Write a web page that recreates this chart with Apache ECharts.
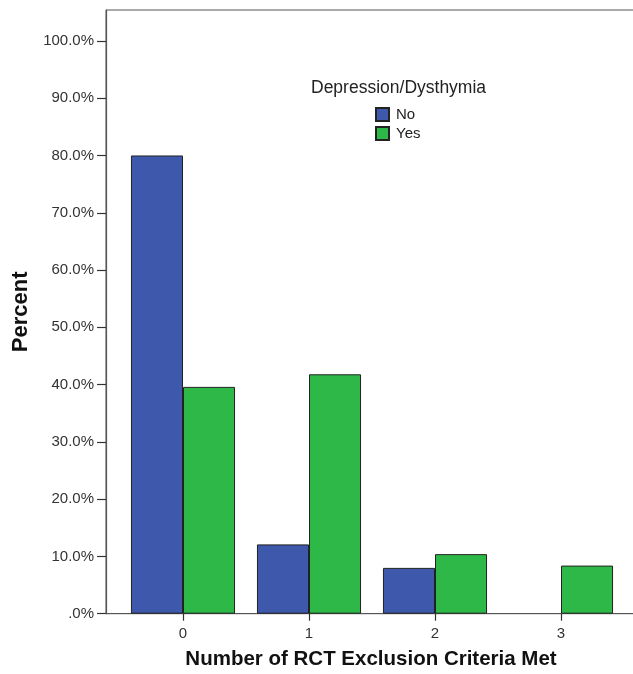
<!DOCTYPE html>
<html>
<head>
<meta charset="utf-8">
<script src="https://cdn.jsdelivr.net/npm/echarts@6/dist/echarts.min.js"></script>
<style>
html,body{margin:0;padding:0;background:#fff;}
#chart{width:633px;height:674px;}
</style>
</head>
<body>
<div id="chart"></div>
<script>
const categories = ['0', '1', '2', '3'];
const seriesNames = ['No', 'Yes'];
const noValues = [80.0, 12.1, 8.0, 0];
const yesValues = [39.6, 41.8, 10.4, 8.4];
const yTicks = [0, 10, 20, 30, 40, 50, 60, 70, 80, 90, 100];
const yMax = 105.4;
const legendTitle = 'Depression/Dysthymia';
const xTitle = 'Number of RCT Exclusion Criteria Met';
const yTitle = 'Percent';

const FONT = "'Liberation Sans', Arial, sans-serif";
const chart = echarts.init(document.getElementById('chart'), null, {renderer: 'canvas'});
const axisColor = '#555';
// a 0% bar is drawn as no bar at all
const asBars = arr => arr.map(v => (v === 0 ? null : v));
chart.setOption({
  backgroundColor: '#fff',
  animation: false,
  textStyle: {fontFamily: FONT},
  title: {
    text: legendTitle,
    left: 311, top: 79, padding: 0,
    textStyle: {fontFamily: FONT, fontSize: 17.5, fontWeight: 'normal', color: '#222'}
  },
  legend: {
    data: seriesNames,
    orient: 'vertical',
    left: 375, top: 107,
    padding: 0,
    itemWidth: 13, itemHeight: 13, itemGap: 4,
    icon: 'rect',
    textStyle: {fontFamily: FONT, fontSize: 15, color: '#222', padding: [0, 0, 0, 2]}
  },
  grid: [
    {left: 120, right: 9, top: 10, bottom: 60.3, outerBoundsMode: 'none', containLabel: false},
    {left: 106, right: -3, top: 10, bottom: 60.3, outerBoundsMode: 'none', containLabel: false,
     show: true, borderColor: axisColor, borderWidth: 1, backgroundColor: 'transparent'}
  ],
  xAxis: [
    {
      gridIndex: 0, type: 'category', data: categories,
      axisLine: {show: false},
      axisTick: {show: true, alignWithLabel: true, length: 7, lineStyle: {color: '#333', width: 1.2}},
      axisLabel: {fontFamily: FONT, fontSize: 15, color: '#333', margin: 13}
    },
    {
      gridIndex: 1, type: 'value', min: 0, max: 1,
      axisLine: {show: true, lineStyle: {color: axisColor, width: 1.2}},
      axisTick: {show: false}, axisLabel: {show: false}, splitLine: {show: false},
      name: xTitle, nameLocation: 'middle', nameGap: 35,
      nameTextStyle: {fontFamily: FONT, fontSize: 20.5, fontWeight: 'bold', color: '#111'}
    }
  ],
  yAxis: [
    {gridIndex: 0, type: 'value', min: 0, max: yMax, show: false},
    {
      gridIndex: 1, type: 'value', min: 0, max: yMax, interval: 10,
      axisLine: {show: true, lineStyle: {color: axisColor, width: 1.2}},
      axisTick: {show: true, length: 9, customValues: yTicks, lineStyle: {color: '#333', width: 1.2}},
      axisLabel: {
        customValues: yTicks,
        fontFamily: FONT, fontSize: 15, color: '#333', margin: 12,
        formatter: v => (v === 0 ? '.0%' : v.toFixed(1) + '%')
      },
      splitLine: {show: false},
      name: yTitle, nameLocation: 'middle', nameGap: 73, nameRotate: 90,
      nameTextStyle: {fontFamily: FONT, fontSize: 22, fontWeight: 'bold', color: '#111'}
    }
  ],
  series: [
    {
      name: seriesNames[0], type: 'bar', xAxisIndex: 0, yAxisIndex: 0,
      data: asBars(noValues), barWidth: '41.3%', barGap: '0%',
      itemStyle: {color: '#3e58ac', borderColor: '#222', borderWidth: 1}
    },
    {
      name: seriesNames[1], type: 'bar', xAxisIndex: 0, yAxisIndex: 0,
      data: asBars(yesValues), barWidth: '41.3%', barGap: '0%',
      itemStyle: {color: '#2eb848', borderColor: '#222', borderWidth: 1}
    }
  ]
});
</script>
</body>
</html>
